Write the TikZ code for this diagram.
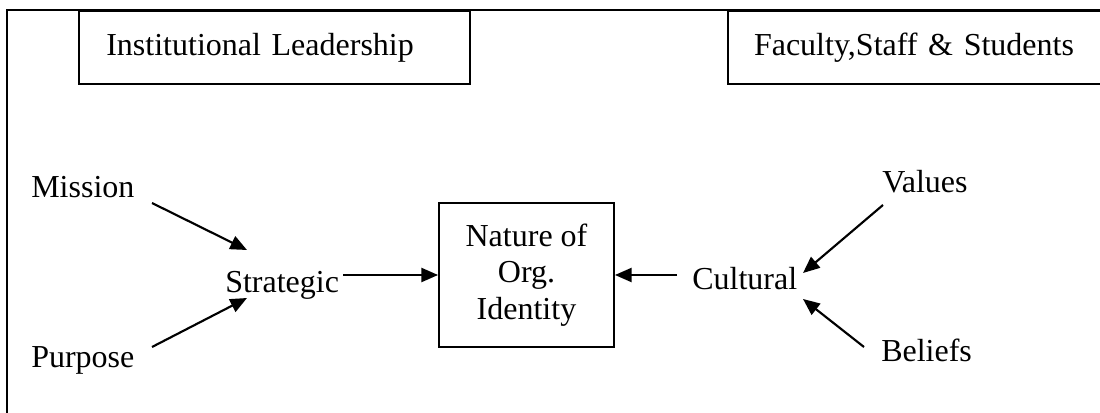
\documentclass[tikz,border=0pt]{standalone}
\usepackage{fontspec}
\setmainfont{Liberation Serif}
\usetikzlibrary{arrows.meta}
\begin{document}
\begin{tikzpicture}[x=0.75pt,y=-0.75pt,
  every node/.style={font=\fontsize{24}{27.4}\selectfont},
  lbl/.style={anchor=base west,inner sep=0pt},
  frame/.style={line width=1.5pt},
  topbox/.style={draw,line width=1.5pt,anchor=north west,minimum height=54.75pt,align=left,inner xsep=0pt},
  arr/.style={line width=1.6pt,-{Triangle[length=12.5pt,width=10.5pt]}}]
\useasboundingbox (0,0) rectangle (1100,413);
% outer frame (top and left sides)
\draw[frame] (6,10) -- (1110,10);
\draw[frame] (7,10) -- (7,420);
% top boxes
\node[topbox,text width=293.25pt] (lead) at (78,10) {\hspace*{20.5pt}Institutional Leadership};
\node[topbox,text width=300pt] (fac) at (727,10) {\hspace*{19.5pt}Faculty,Staff \& Students};
% labels
\node[lbl] (mission) at (31,198) {Mission};
\node[lbl] (purpose) at (31,368) {Purpose};
\node[lbl] (strat) at (225,293) {Strategic};
\node[draw,line width=1.4pt,minimum width=131.25pt,minimum height=108pt,align=center,inner sep=0pt] (nat) at (526.5,275) {Nature of\\Org.\\Identity};
\node[lbl] (cult) at (692,290) {Cultural};
\node[lbl] (values) at (882,193) {Values};
\node[lbl] (beliefs) at (881,362) {Beliefs};
% arrow end points
\coordinate (m0) at (152,203);
\coordinate (m1) at (247,250);
\coordinate (p0) at (152,347);
\coordinate (p1) at (247,298);
\coordinate (s0) at (343,275);
\coordinate (c0) at (677,275);
\coordinate (v0) at (883,205);
\coordinate (v1) at (803,273);
\coordinate (b0) at (864,347);
\coordinate (b1) at (803,299);
% arrows
\draw[arr] (m0) -- (m1);
\draw[arr] (p0) -- (p1);
\draw[arr] (s0) -- (nat.west |- s0);
\draw[arr] (c0) -- (nat.east |- c0);
\draw[arr] (v0) -- (v1);
\draw[arr] (b0) -- (b1);
\end{tikzpicture}
\end{document}
